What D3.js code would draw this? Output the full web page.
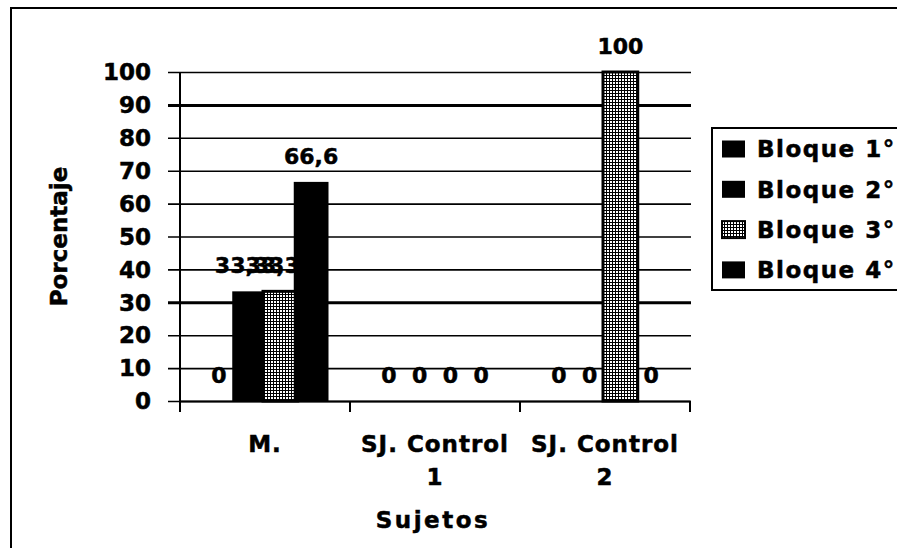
<!DOCTYPE html>
<html>
<head>
<meta charset="utf-8">
<script src="https://cdn.jsdelivr.net/npm/d3@7"></script>
<style>
body { margin: 0; background: #fff; }
text { font-family: "DejaVu Sans", sans-serif; font-weight: bold; fill: #000; stroke: #000; stroke-width: 0.5px; }
</style>
</head>
<body>
<div id="chart"></div>
<script>
var subjects = ["M.", "SJ. Control 1", "SJ. Control 2"];
var blocks = ["Bloque 1°", "Bloque 2°", "Bloque 3°", "Bloque 4°"];
var bloque1 = [0, 0, 0];
var bloque2 = [33.33, 0, 0];
var bloque3 = [33.33, 0, 100];
var bloque4 = [66.6, 0, 0];
var yTicks = [0, 10, 20, 30, 40, 50, 60, 70, 80, 90, 100];

var series = [bloque1, bloque2, bloque3, bloque4];
var width = 897, height = 548;

var svg = d3.select("#chart")
    .append("svg")
    .attr("width", width)
    .attr("height", height)

//hatch for bloque 3
var pat = svg.append("defs").append("pattern")
    .attr("id", "hatch")
    .attr("patternUnits", "userSpaceOnUse")
    .attr("width", 3)
    .attr("height", 3)
pat.append("rect").attr("width", 3).attr("height", 3).attr("fill", "#fff")
pat.append("path").attr("d", "M0,0.5H3M0.5,0V3")
    .attr("stroke", "#000").attr("stroke-width", 1).attr("shape-rendering", "crispEdges")

var fills = ["#000", "#000", "url(#hatch)", "#000"];

//outer frame
svg.append("rect")
    .attr("x", 11).attr("y", 8)
    .attr("width", 1000).attr("height", 1000)
    .attr("fill", "none").attr("stroke", "#000").attr("stroke-width", 2)

let x0 = d3.scaleBand().domain(subjects).range([180, 690]);
let x1 = d3.scaleBand().domain(d3.range(blocks.length)).range([-61.5, 61.5]);
let barW = x1.bandwidth() * 1.13;
let y = d3.scaleLinear().domain([0, 100]).range([401, 72]);

//gridlines + y axis ticks
svg.append("g")
    .attr("transform", "translate(180,0)")
    .call(d3.axisLeft(y).tickValues(yTicks).tickSize(-511).tickPadding(0).tickFormat(""))
    .call(g => g.select(".domain").remove())
    .call(g => g.selectAll("line").attr("x1", -12).attr("stroke", "#000")
        .attr("stroke-width", d => (d == 90 || d == 30) ? 3 : 1.6))

svg.append("g").selectAll("text")
    .data(yTicks)
    .enter()
    .append("text")
    .attr("x", 151)
    .attr("y", d => y(d))
    .attr("dy", "0.36em")
    .attr("text-anchor", "end")
    .style("font-size", "23px")
    .text(d => d)

//y axis line
svg.append("line")
    .attr("x1", 180).attr("x2", 180)
    .attr("y1", y(100)).attr("y2", y(0) + 2)
    .attr("stroke", "#000").attr("stroke-width", 2)

//x axis
svg.append("g")
    .attr("transform", "translate(0," + y(0) + ")")
    .call(d3.axisBottom(x0).tickSize(0).tickFormat(""))
    .call(g => g.select(".domain").attr("stroke-width", 2))
svg.append("g").selectAll("line")
    .data(subjects.map(s => x0(s)).concat([x0.range()[1]]))
    .enter()
    .append("line")
    .attr("x1", d => d).attr("x2", d => d)
    .attr("y1", y(0)).attr("y2", y(0) + 11)
    .attr("stroke", "#000").attr("stroke-width", 2)

//category labels, wrapped
subjects.forEach(s => {
    let parts = s.length > 5 ? [s.slice(0, s.lastIndexOf(" ")), s.slice(s.lastIndexOf(" ") + 1)] : [s];
    let t = svg.append("text")
        .attr("x", x0(s) + x0.bandwidth() / 2)
        .attr("y", 452)
        .attr("text-anchor", "middle")
        .style("font-size", "23px")
        .style("letter-spacing", "1px")
    parts.forEach((p, i) => {
        t.append("tspan")
            .attr("x", x0(s) + x0.bandwidth() / 2)
            .attr("dy", i == 0 ? 0 : 33)
            .text(p)
    })
})

//bars and labels, series by series
function fmt(v){ return String(v).replace(".", ","); }
series.forEach((vals, si) => {
    let g = svg.append("g")
    g.selectAll("rect")
        .data(vals)
        .enter()
        .append("rect")
        .attr("x", (d, i) => x0(subjects[i]) + x0.bandwidth() / 2 + x1(si) + x1.bandwidth() / 2 - barW / 2)
        .attr("y", d => y(d))
        .attr("width", barW)
        .attr("height", d => y(0) - y(d))
        .attr("fill", fills[si])
        .attr("stroke", si == 2 ? "#000" : "none")
        .attr("stroke-width", 3)
    g.selectAll("text")
        .data(vals)
        .enter()
        .append("text")
        .attr("x", (d, i) => x0(subjects[i]) + x0.bandwidth() / 2 + x1(si) + x1.bandwidth() / 2)
        .attr("y", d => y(d) - 18)
        .attr("text-anchor", "middle")
        .style("font-size", "22px")
        .text(d => fmt(d))
})

//axis titles
svg.append("text")
    .attr("transform", "translate(67," + (y(50)) + ") rotate(-90)")
    .attr("text-anchor", "middle")
    .style("font-size", "23px")
    .text("Porcentaje")
svg.append("text")
    .attr("x", 433)
    .attr("y", 528)
    .attr("text-anchor", "middle")
    .style("font-size", "23px")
    .style("letter-spacing", "2.5px")
    .text("Sujetos")

//legend
let lg = svg.append("g").attr("transform", "translate(712,128)")
lg.append("rect")
    .attr("width", 300).attr("height", 162)
    .attr("fill", "#fff").attr("stroke", "#000").attr("stroke-width", 2)
blocks.forEach((b, i) => {
    let cy = 21 + i * 40.3;
    lg.append("rect")
        .attr("x", 10).attr("y", cy - 8.5)
        .attr("width", 23).attr("height", 17)
        .attr("fill", fills[i])
        .attr("stroke", i == 2 ? "#000" : "none")
        .attr("stroke-width", 2)
    lg.append("text")
        .attr("x", 45).attr("y", cy)
        .attr("dy", "0.36em")
        .style("font-size", "23px")
        .style("letter-spacing", "1.5px")
        .text(b)
})
</script>
</body>
</html>
